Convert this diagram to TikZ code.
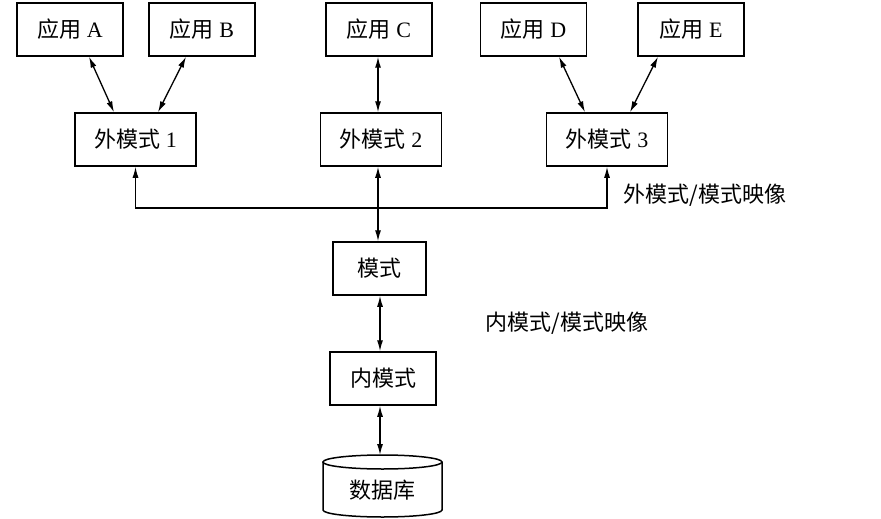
\documentclass[tikz,border=0pt]{standalone}
\usepackage{fontspec}
\setmainfont{Liberation Serif}
\newfontfamily\cjk{Noto Sans CJK SC}
\usetikzlibrary{arrows.meta}

\begin{document}
\begin{tikzpicture}[x=1pt,y=-1pt,font=\fontsize{22}{24}\selectfont,>={Latex[length=11pt,width=6pt]},
  box/.style={draw,line width=1.5pt,minimum height=53pt,inner sep=0pt},
  link/.style={line width=1.3pt}]
\useasboundingbox (0,0) rectangle (881,519);
% applications
\node[box,minimum width=106pt] (appA) at (70,29.5)  {{\cjk 应用} A};
\node[box,minimum width=106pt] (appB) at (202,29.5) {{\cjk 应用} B};
\node[box,minimum width=106pt] (appC) at (379,29.5) {{\cjk 应用} C};
\node[box,minimum width=106pt] (appD) at (533.5,29.5) {{\cjk 应用} D};
\node[box,minimum width=106pt] (appE) at (691,29.5) {{\cjk 应用} E};
% external schemas
\node[box,minimum width=121pt] (ext1) at (135.5,139.5) {{\cjk 外模式} 1};
\node[box,minimum width=121pt] (ext2) at (381,139.5)   {{\cjk 外模式} 2};
\node[box,minimum width=121pt] (ext3) at (607,139.5)   {{\cjk 外模式} 3};
% schema and internal schema
\node[box,minimum width=93pt]  (schema) at (379.5,268.5) {\cjk 模式};
\node[box,minimum width=106pt] (inner)  at (383,378.5)   {\cjk 内模式};
% database
\draw[line width=1.5pt] (323,462) -- (323,510) arc[start angle=180,end angle=360,x radius=59.5pt,y radius=7pt] -- (442,462);
\draw[line width=1.5pt] (382.5,462) ellipse[x radius=59.5pt,y radius=7pt];
\node (db) at (382.5,490) {\cjk 数据库};
\coordinate (dbtop) at (382.5,455);
% mappings
\draw[link,<->] ([xshift=19pt]appA.south) -- ([xshift=-21.5pt]ext1.north);
\draw[link,<->] ([xshift=-16pt]appB.south) -- ([xshift=22.5pt]ext1.north);
\draw[link,<->] ([xshift=-1pt]appC.south) -- ([xshift=-3pt]ext2.north);
\draw[link,<->] ([xshift=25.5pt]appD.south) -- ([xshift=-22pt]ext3.north);
\draw[link,<->] ([xshift=-33pt]appE.south) -- ([xshift=23pt]ext3.north);
\coordinate (bus) at (378,208);
\draw[link,->] (bus) -| (ext1.south);
\draw[link,->] (bus) -| (ext3.south);
\draw[link,<->] ([xshift=-3pt]ext2.south) -- ([xshift=-1.5pt]schema.north);
\draw[link,<->] ([xshift=-3pt]inner.north |- schema.south) -- ([xshift=-3pt]inner.north);
\draw[link,<->] ([xshift=-3pt]inner.south) -- ([xshift=-2.5pt]dbtop);
% labels
\node[anchor=west] (extmap) at (620,195) {\cjk 外模式/模式映像};
\node[anchor=west] (inmap)  at (482,323) {\cjk 内模式/模式映像};
\end{tikzpicture}
\end{document}
